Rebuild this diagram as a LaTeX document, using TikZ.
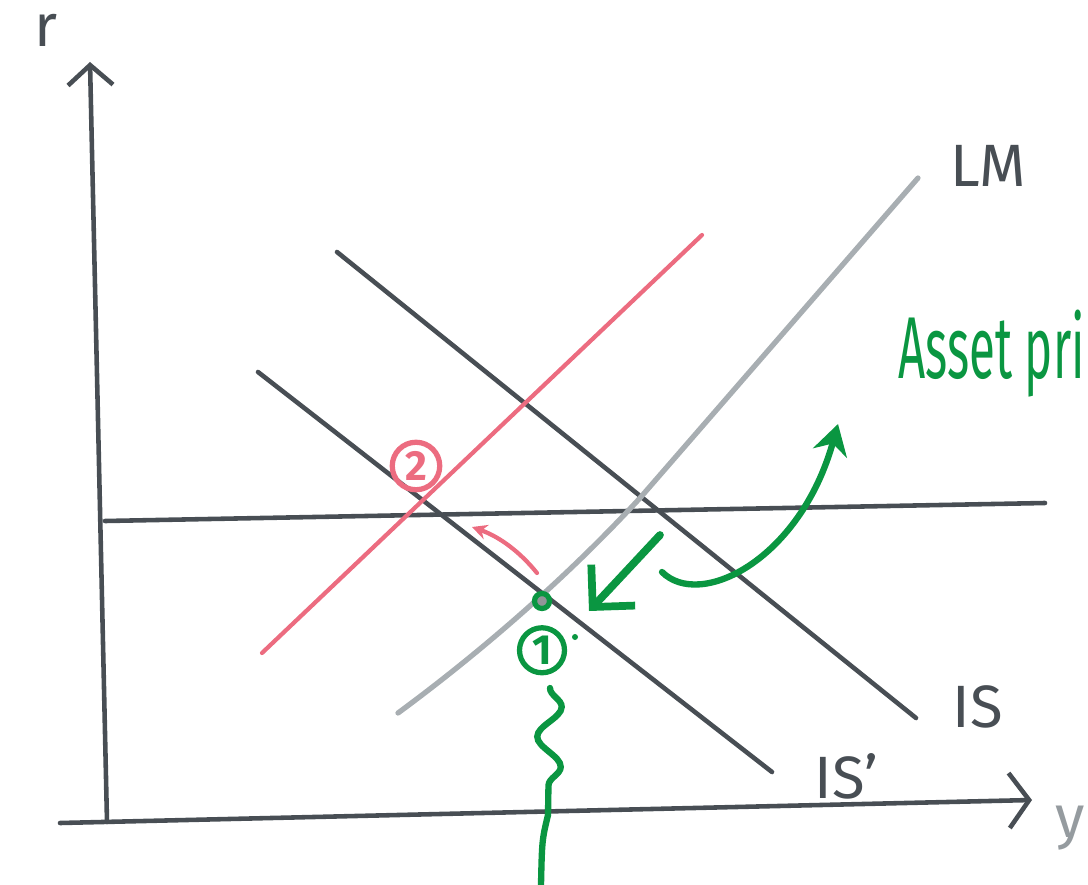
\documentclass[tikz,border=0pt]{standalone}
\usepackage{fontspec}
\setmainfont{Fira Sans}
\usepackage{graphicx}
\usepackage{xcolor}
\usetikzlibrary{arrows.meta,positioning,calc,decorations.pathmorphing}

\definecolor{pencil}{RGB}{72,78,84}
\definecolor{pencillight}{RGB}{168,174,178}
\definecolor{redpen}{RGB}{236,108,128}
\definecolor{greenpen}{RGB}{10,150,65}

\begin{document}
\begin{tikzpicture}[x=0.02cm, y=-0.02cm,
  axis/.style={line width=2.6pt, draw=pencil, line cap=round},
  curve/.style={line width=2.6pt, draw=pencil, line cap=round},
  lmcurve/.style={line width=3pt, draw=pencillight, line cap=round},
  redline/.style={line width=2.4pt, draw=redpen, line cap=round},
  gline/.style={line width=3.6pt, draw=greenpen, line cap=round},
  lbl/.style={text=pencil, font=\fontsize{34}{36}\selectfont, inner sep=0pt},
  glbl/.style={text=greenpen, font=\fontsize{50}{52}\selectfont, inner sep=0pt},
  marker/.style={circle, line width=3pt, inner sep=0pt, font=\fontsize{24}{26}\selectfont\bfseries}
]
\useasboundingbox (0,0) rectangle (1088,885);
\clip (0,0) rectangle (1088,885);

% axes
\coordinate (o) at (107,822);
\coordinate (rtop) at (90,62);
\coordinate (xstart) at (60,823);
\coordinate (xend) at (1032,800);
\draw[axis, -{Straight Barb[length=4mm, width=9mm, line width=2.6pt]}] (o) -- (rtop);
\draw[axis, -{Straight Barb[length=4mm, width=11mm, line width=2.6pt]}] (xstart) -- (xend);
\node[lbl] (rlab) at (46,30) {r};
\node[lbl, text=pencillight!80!pencil] (ylab) at (1070,828) {y};

% world interest rate
\coordinate (hl) at (105,521);
\coordinate (hr) at (1045,503);
\draw[axis] (hl) -- (hr);

% curves
\coordinate (is1) at (337,252);
\coordinate (is2) at (916,718);
\coordinate (isp1) at (258,372);
\coordinate (isp2) at (772,772);
\coordinate (lmr1) at (262,653);
\coordinate (lmr2) at (702,235);
\draw[curve] (is1) -- (is2);
\draw[curve] (isp1) -- (isp2);
\draw[redline] (lmr1) -- (lmr2);
\draw[lmcurve] (398,713) .. controls (470,660) and (560,585) .. (640,498) -- (918,178);

\node[lbl] (lmlab) at (988,166) {LM};
\node[lbl] (islab) at (978,707) {IS};
\node[lbl] (isplab) at (846,776) {IS'};

% equilibria
\node[marker, draw=redpen, text=redpen, minimum size=0.95cm] (two) at (416,466) {2};
\draw[redline, -{Stealth[length=3mm, width=3mm]}] (537,573) .. controls (520,552) and (500,537) .. (472,527);

\node[circle, draw=greenpen, line width=3pt, fill=pencil!60, minimum size=0.3cm, inner sep=0pt] (e1) at (542,601) {};
\node[marker, draw=greenpen, text=greenpen, minimum size=0.9cm, below=0.28cm of e1] (one) {1};
\fill[greenpen] (575,637) circle (3);

% shock
\coordinate (sq1) at (550,688);
\coordinate (sq2) at (548,815);
\coordinate (sq3) at (541,885);
\draw[gline, decorate, decoration={snake, amplitude=2.4mm, segment length=12mm}] (sq1) -- (sq2);
\draw[gline] (sq2) .. controls (542,840) .. (sq3);

\coordinate (ga1) at (660,535);
\coordinate (ga2) at (589,611);
\draw[gline, line width=4.4pt, -{Straight Barb[length=6mm, width=12mm, line width=4.4pt]}] (ga1) -- (ga2);

\coordinate (cb1) at (662,572);
\coordinate (cb2) at (838,424);
\draw[gline, -{Stealth[length=6mm, width=7mm]}] (cb1) .. controls (700,610) and (800,560) .. (cb2);

\node[glbl, anchor=base west] (asset) at (898,378) {\scalebox{0.54}[1]{Asset pri}};
\end{tikzpicture}
\end{document}
